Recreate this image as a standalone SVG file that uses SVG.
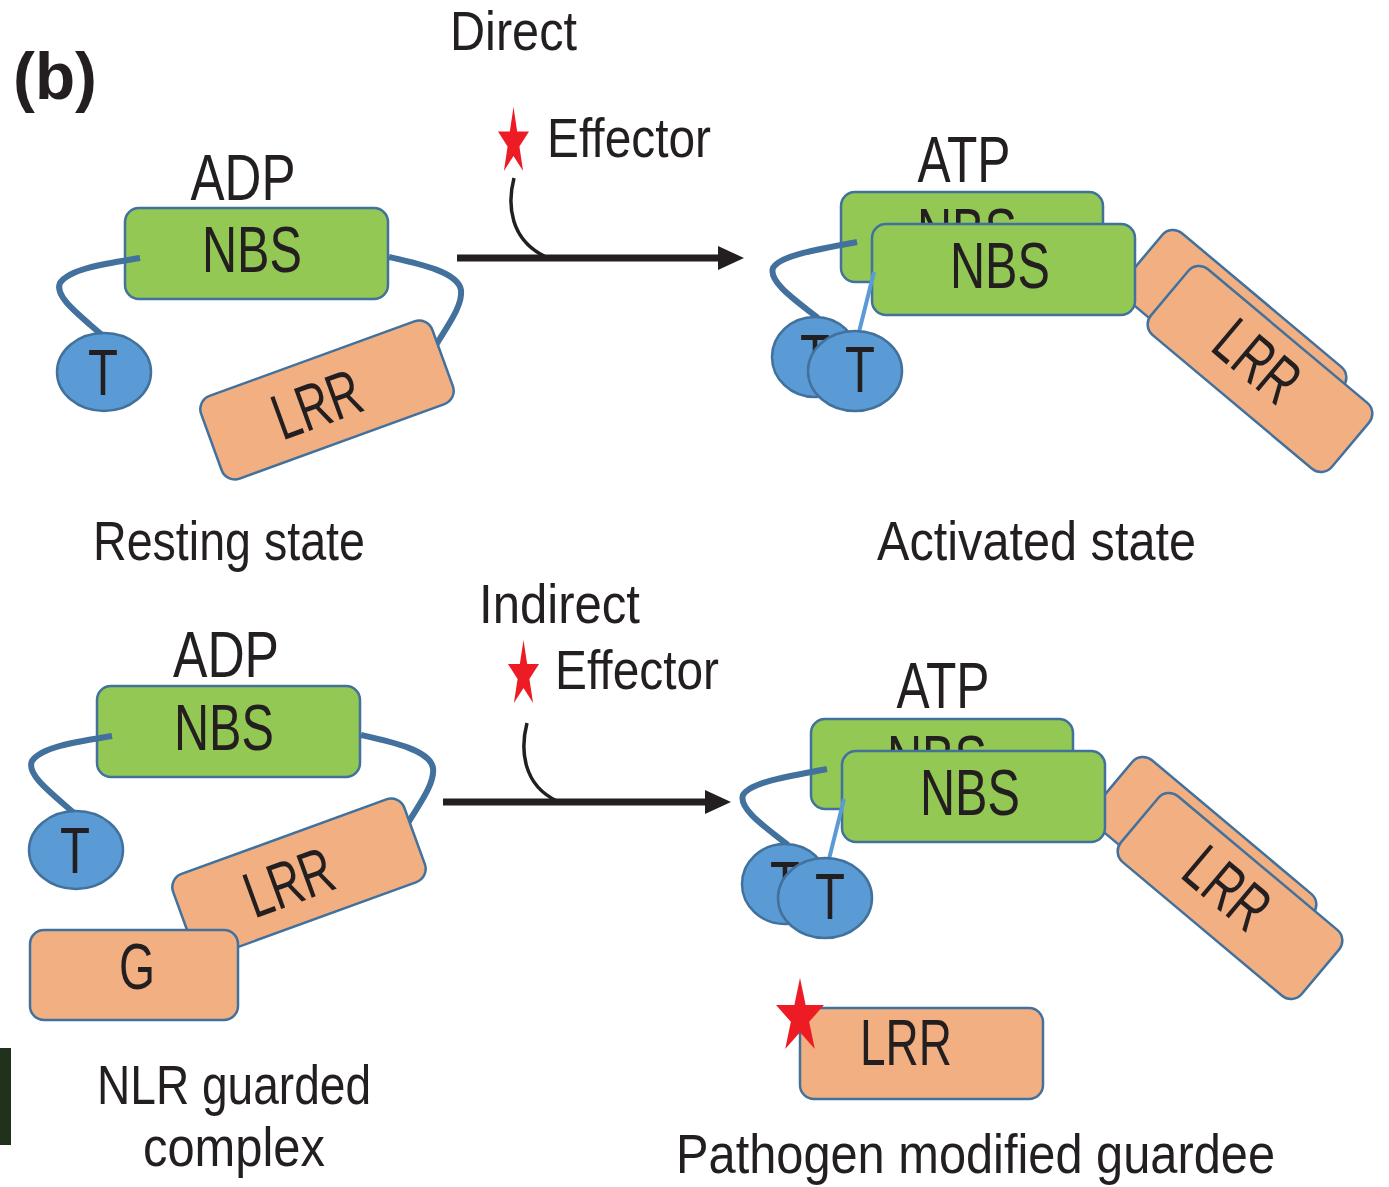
<svg xmlns="http://www.w3.org/2000/svg" xmlns:xlink="http://www.w3.org/1999/xlink" width="1389" height="1187" viewBox="0 0 1389 1187">
<style>
text { font-family: "Liberation Sans", Arial, sans-serif; fill: #231F20; }
.lbl { font-size: 55px; }
.dom { font-size: 65px; text-anchor: middle; }
.nbs { fill: #92C853; stroke: #41719C; stroke-width: 2.5; }
.lrr { fill: #F2AF82; stroke: #41719C; stroke-width: 2.5; }
.tdom { fill: #5B9BD5; stroke: #41719C; stroke-width: 2.5; }
.link { fill: none; stroke: #41719C; stroke-width: 6; }
.thin { fill: none; stroke: #5B9BD5; stroke-width: 4; }
.star { fill: #ED1C24; }
.arrow { fill: none; stroke: #231F20; stroke-width: 7; }
.hook { fill: none; stroke: #231F20; stroke-width: 3.5; }
</style>
<defs>
  <path id="star" d="M0,-1 L0.2245,-0.309 L0.951,-0.309 L0.363,0.118 L0.588,0.809 L0,0.382 L-0.588,0.809 L-0.363,0.118 L-0.951,-0.309 L-0.2245,-0.309 Z"/>
  <marker id="head" markerUnits="userSpaceOnUse" markerWidth="26" markerHeight="24" viewBox="0 0 26 24" refX="2" refY="12" orient="auto">
    <path d="M0,0 L26,12 L0,24 Z" fill="#231F20"/>
  </marker>
  <clipPath id="backText"><rect x="820" y="180" width="300" height="44"/></clipPath>
</defs>

<rect x="0" y="1048" width="11" height="97" fill="#21321C"/>

<text x="13" y="99" style="font-size:67px;font-weight:bold" textLength="84" lengthAdjust="spacingAndGlyphs">(b)</text>
<text class="lbl" x="450" y="50" textLength="127" lengthAdjust="spacingAndGlyphs">Direct</text>
<text class="lbl" x="547" y="157" textLength="164" lengthAdjust="spacingAndGlyphs">Effector</text>
<text class="lbl" x="479" y="623" textLength="161" lengthAdjust="spacingAndGlyphs">Indirect</text>
<text class="lbl" x="555" y="689" textLength="164" lengthAdjust="spacingAndGlyphs">Effector</text>
<text class="lbl" x="93" y="560" textLength="272" lengthAdjust="spacingAndGlyphs">Resting state</text>
<text class="lbl" x="877" y="560" textLength="319" lengthAdjust="spacingAndGlyphs">Activated state</text>
<text class="lbl" x="97" y="1104" textLength="274" lengthAdjust="spacingAndGlyphs">NLR guarded</text>
<text class="lbl" x="143" y="1166" textLength="182" lengthAdjust="spacingAndGlyphs">complex</text>
<text class="lbl" x="676" y="1173" textLength="599" lengthAdjust="spacingAndGlyphs">Pathogen modified guardee</text>

<g id="connectors">
  <use xlink:href="#star" class="star" transform="translate(513.5,142.4) scale(16.3,35.4)"/>
  <path class="hook" d="M514,178 C507,205 510,240 546,257"/>
  <path class="arrow" d="M457,258 L720,258" marker-end="url(#head)"/>
  <use xlink:href="#star" class="star" transform="translate(523.5,674.8) scale(16.3,34.8)"/>
  <path class="hook" d="M527,723 C520,750 523,785 557,801"/>
  <path class="arrow" d="M443,802 L707,802" marker-end="url(#head)"/>
</g>

<g id="resting-direct">
  <text class="dom" x="243" y="200" textLength="105" lengthAdjust="spacingAndGlyphs">ADP</text>
  <rect class="nbs" x="125" y="208" width="263" height="91" rx="14"/>
  <text class="dom" x="252" y="272" textLength="100" lengthAdjust="spacingAndGlyphs">NBS</text>
  <path class="link" d="M140,258 C110,263 70,268 60,283 C54,296 78,314 102,335"/>
  <path class="link" d="M389,257 C420,264 458,272 461,290 C463,305 448,325 436,345"/>
  <ellipse class="tdom" cx="104" cy="372" rx="47" ry="39"/>
  <text class="dom" x="103" y="395" textLength="30" lengthAdjust="spacingAndGlyphs">T</text>
  <g transform="translate(327,400) rotate(-20)">
    <rect class="lrr" x="-123" y="-44" width="246" height="88" rx="14"/>
    <text class="dom" x="-11" y="23" textLength="90" lengthAdjust="spacingAndGlyphs">LRR</text>
  </g>
</g>

<g id="activated-direct">
  <text class="dom" x="964" y="182" textLength="93" lengthAdjust="spacingAndGlyphs">ATP</text>
  <g transform="translate(1234,333) rotate(40)">
    <rect class="lrr" x="-118" y="-43" width="236" height="86" rx="14"/>
  </g>
  <g transform="translate(1260,369) rotate(40)">
    <rect class="lrr" x="-118" y="-43" width="236" height="86" rx="14"/>
    <text class="dom" x="-7" y="18" textLength="90" lengthAdjust="spacingAndGlyphs">LRR</text>
  </g>
  <rect class="nbs" x="841" y="192" width="262" height="90" rx="14"/>
  <text class="dom" x="967" y="254" textLength="100" lengthAdjust="spacingAndGlyphs" clip-path="url(#backText)">NBS</text>
  <path class="link" d="M857,242 C820,249 780,255 773,268 C768,282 798,302 818,318"/>
  <rect class="nbs" x="872" y="224" width="263" height="91" rx="14"/>
  <text class="dom" x="1000" y="288" textLength="100" lengthAdjust="spacingAndGlyphs">NBS</text>
  <path class="thin" d="M874,272 L859,332"/>
  <ellipse class="tdom" cx="815" cy="357" rx="43" ry="40"/>
  <text class="dom" x="815" y="380" textLength="30" lengthAdjust="spacingAndGlyphs">T</text>
  <ellipse class="tdom" cx="855" cy="371" rx="47" ry="40"/>
  <text class="dom" x="860" y="392" textLength="30" lengthAdjust="spacingAndGlyphs">T</text>
</g>

<g id="resting-guarded">
  <text class="dom" x="226" y="677" textLength="106" lengthAdjust="spacingAndGlyphs">ADP</text>
  <g transform="translate(-28,478)">
    <rect class="nbs" x="125" y="208" width="263" height="91" rx="14"/>
    <text class="dom" x="252" y="272" textLength="100" lengthAdjust="spacingAndGlyphs">NBS</text>
    <path class="link" d="M140,258 C110,263 70,268 60,283 C54,296 78,314 102,335"/>
    <path class="link" d="M389,257 C420,264 458,272 461,290 C463,305 448,325 436,345"/>
    <ellipse class="tdom" cx="104" cy="372" rx="47" ry="39"/>
    <text class="dom" x="103" y="395" textLength="30" lengthAdjust="spacingAndGlyphs">T</text>
    <g transform="translate(327,400) rotate(-20)">
      <rect class="lrr" x="-123" y="-44" width="246" height="88" rx="14"/>
      <text class="dom" x="-11" y="23" textLength="90" lengthAdjust="spacingAndGlyphs">LRR</text>
    </g>
  </g>
  <g id="guardee-G">
    <rect class="lrr" x="30" y="930" width="208" height="90" rx="14"/>
    <text class="dom" x="137" y="989" textLength="36" lengthAdjust="spacingAndGlyphs">G</text>
  </g>
</g>

<g id="activated-guarded">
  <text class="dom" x="943" y="708" textLength="93" lengthAdjust="spacingAndGlyphs">ATP</text>
  <g transform="translate(-30,527)">
    <g transform="translate(1234,333) rotate(40)">
      <rect class="lrr" x="-118" y="-43" width="236" height="86" rx="14"/>
    </g>
    <g transform="translate(1260,369) rotate(40)">
      <rect class="lrr" x="-118" y="-43" width="236" height="86" rx="14"/>
      <text class="dom" x="-7" y="18" textLength="90" lengthAdjust="spacingAndGlyphs">LRR</text>
    </g>
    <rect class="nbs" x="841" y="192" width="262" height="90" rx="14"/>
    <text class="dom" x="967" y="254" textLength="100" lengthAdjust="spacingAndGlyphs" clip-path="url(#backText)">NBS</text>
    <path class="link" d="M857,242 C820,249 780,255 773,268 C768,282 798,302 818,318"/>
    <rect class="nbs" x="872" y="224" width="263" height="91" rx="14"/>
    <text class="dom" x="1000" y="288" textLength="100" lengthAdjust="spacingAndGlyphs">NBS</text>
    <path class="thin" d="M874,272 L859,332"/>
    <ellipse class="tdom" cx="815" cy="357" rx="43" ry="40"/>
    <text class="dom" x="815" y="380" textLength="30" lengthAdjust="spacingAndGlyphs">T</text>
    <ellipse class="tdom" cx="855" cy="371" rx="47" ry="40"/>
    <text class="dom" x="860" y="392" textLength="30" lengthAdjust="spacingAndGlyphs">T</text>
  </g>
</g>

<g id="modified-guardee">
  <rect class="lrr" x="800" y="1008" width="243" height="91" rx="14"/>
  <text class="dom" x="906" y="1065" textLength="92" lengthAdjust="spacingAndGlyphs">LRR</text>
  <use xlink:href="#star" class="star" transform="translate(800,1017.2) scale(25.2,39.2)"/>
</g>
</svg>
